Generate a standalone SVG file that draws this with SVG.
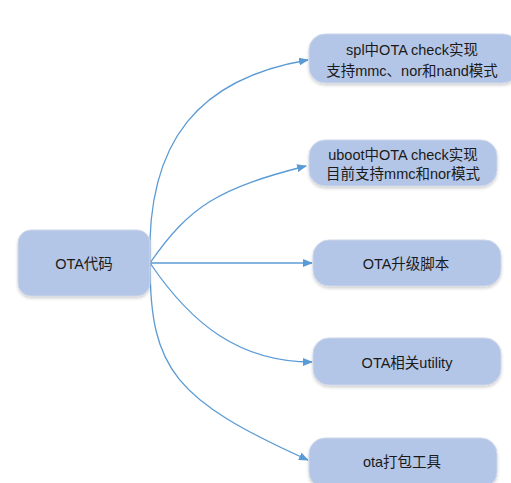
<svg xmlns="http://www.w3.org/2000/svg" width="511" height="483" viewBox="0 0 511 483">
<defs>
<marker id="ah" markerWidth="10" markerHeight="8" refX="9" refY="4" orient="auto" markerUnits="userSpaceOnUse">
<path d="M0,0 L10,4 L0,8 Z" fill="#5B9BD5"/>
</marker>
<filter id="sh" x="-10%" y="-10%" width="120%" height="130%">
<feDropShadow dx="0" dy="2" stdDeviation="1.5" flood-color="#000" flood-opacity="0.18"/>
</filter>
<style>
.box{fill:#B4C6E7;stroke:#CDD6EA;stroke-width:1;filter:url(#sh)}
.t{font-family:"Liberation Sans","Noto Sans CJK SC",sans-serif;font-size:14.5px;fill:#1a1a1a;text-anchor:middle}
.c{fill:none;stroke:#5B9BD5;stroke-width:1.3;marker-end:url(#ah)}
</style>
</defs>
<rect width="511" height="483" fill="#fff"/>
<g id="connectors">
<path class="c" d="M150,263 C146,140 200,78 308,60"/>
<path class="c" d="M150,263 C190,205 220,188 306,166"/>
<path class="c" d="M150,263 L312,263"/>
<path class="c" d="M150,263 C192,325 240,362 312,362"/>
<path class="c" d="M150,263 C150,370 175,400 308,460"/>
</g>
<g id="root">
<rect class="box" x="18" y="230" width="132" height="66" rx="13"/>
<text class="t" x="84" y="269">OTA代码</text>
</g>
<g id="n1">
<rect class="box" x="309" y="34" width="210" height="49" rx="16"/>
<text class="t" x="412" y="55">spl中OTA check实现</text>
<text class="t" x="412" y="76">支持mmc、nor和nand模式</text>
</g>
<g id="n2">
<rect class="box" x="309" y="140" width="188" height="46" rx="16"/>
<text class="t" x="403" y="160">uboot中OTA check实现</text>
<text class="t" x="403" y="179">目前支持mmc和nor模式</text>
</g>
<g id="n3">
<rect class="box" x="313" y="240" width="188" height="46" rx="16"/>
<text class="t" x="406" y="269">OTA升级脚本</text>
</g>
<g id="n4">
<rect class="box" x="313" y="338" width="188" height="47" rx="16"/>
<text class="t" x="407" y="368">OTA相关utility</text>
</g>
<g id="n5">
<rect class="box" x="309" y="438" width="188" height="50" rx="16"/>
<text class="t" x="402" y="467">ota打包工具</text>
</g>
</svg>
